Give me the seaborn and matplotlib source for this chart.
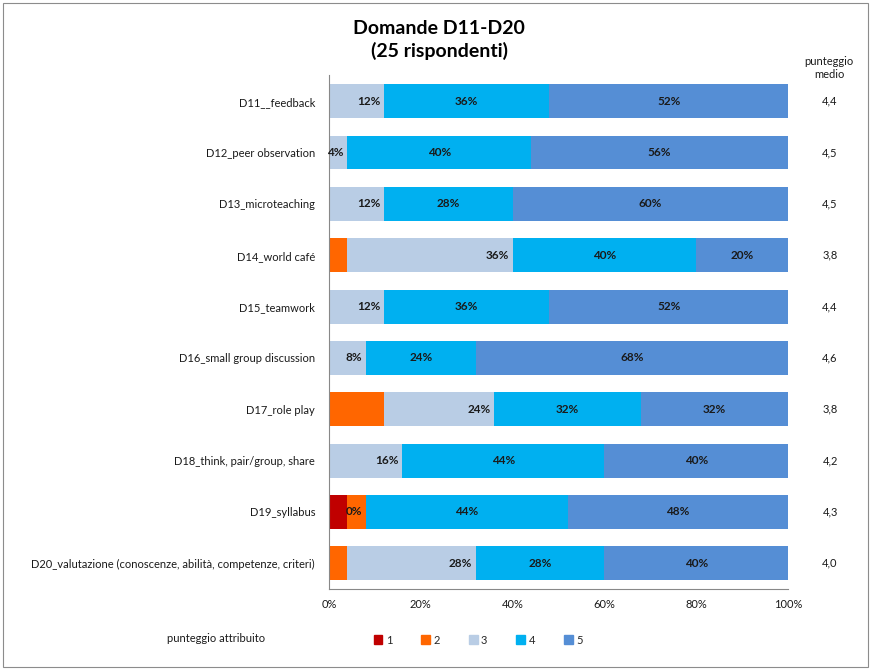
import numpy as np
import pandas as pd
import matplotlib
matplotlib.use("Agg")
import matplotlib.pyplot as plt
from matplotlib.patches import Rectangle
from matplotlib.transforms import blended_transform_factory
import seaborn as sns

categories = [
    "D11__feedback",
    "D12_peer observation",
    "D13_microteaching",
    "D14_world café",
    "D15_teamwork",
    "D16_small group discussion",
    "D17_role play",
    "D18_think, pair/group, share",
    "D19_syllabus",
    "D20_valutazione (conoscenze, abilità, competenze, criteri)",
]
score_1 = [0, 0, 0, 0, 0, 0, 0, 0, 4, 0]
score_2 = [0, 0, 0, 4, 0, 0, 12, 0, 4, 4]
score_3 = [12, 4, 12, 36, 12, 8, 24, 16, 0, 28]
score_4 = [36, 40, 28, 40, 36, 24, 32, 44, 44, 28]
score_5 = [52, 56, 60, 20, 52, 68, 32, 40, 48, 40]
mean_scores = ["4,4", "4,5", "4,5", "3,8", "4,4", "4,6", "3,8", "4,2", "4,3", "4,0"]
levels = ["1", "2", "3", "4", "5"]
colors = ["#C00000", "#FF6600", "#B9CDE5", "#00B0F0", "#558ED5"]
xticks = [0, 20, 40, 60, 80, 100]

sns.set_theme(style="white")
plt.rcParams["font.family"] = ["Lato", "DejaVu Sans"]

series = [score_1, score_2, score_3, score_4, score_5]
cum = np.cumsum(np.array(series), axis=0)

fig = plt.figure(figsize=(8.71, 6.70), dpi=100)
ax = fig.add_axes([329 / 871, 1 - 589 / 670, (788 - 329) / 871, (589 - 75.5) / 670])

# draw cumulative totals from the largest down so each level overlays the next
for k in range(4, -1, -1):
    df = pd.DataFrame({"cat": categories, "val": cum[k]})
    sns.barplot(data=df, x="val", y="cat", orient="h", color=colors[k],
                width=0.66, saturation=1, linewidth=0, ax=ax)

# mean score column: x in figure coordinates, y in data coordinates
mean_tr = blended_transform_factory(fig.transFigure, ax.transData)

# value labels
for i in range(len(categories)):
    left3 = cum[1][i]
    v3 = score_3[i]
    ax.text(left3 + v3 - 0.8, i, f"{v3}%", ha="right", va="center",
            fontsize=8.5, fontweight="bold", color="#1a1a1a")
    for k in (3, 4):
        v = series[k][i]
        start = cum[k - 1][i]
        ax.text(start + v / 2, i, f"{v}%", ha="center", va="center",
                fontsize=8.5, fontweight="bold", color="#1a1a1a")
    ax.text(830 / 871, i, mean_scores[i], transform=mean_tr, clip_on=False,
            ha="center", va="center", fontsize=8, color="#1a1a1a")

ax.set_xlim(0, 100)
ax.set_ylim(len(categories) - 0.5, -0.5)
ax.set_xticks(xticks)
ax.set_xticklabels([f"{t}%" for t in xticks], fontsize=8, color="#1a1a1a")
ax.set_yticks(range(len(categories)))
ax.set_yticklabels(categories, fontsize=8, color="#1a1a1a")
ax.tick_params(axis="y", length=0, pad=10)
ax.set_yticks(np.arange(-0.5, len(categories), 1), minor=True)
ax.tick_params(axis="y", which="minor", length=4, color="#888888", direction="out")
ax.tick_params(axis="x", length=4, color="#888888", direction="out", pad=3)
ax.set_xlabel("")
ax.set_ylabel("")
for s in ("top", "right"):
    ax.spines[s].set_visible(False)
for s in ("left", "bottom"):
    ax.spines[s].set_color("#888888")
    ax.spines[s].set_linewidth(0.8)

fig.text(439 / 871, 1 - 20 / 670, "Domande D11-D20\n(25 rispondenti)", ha="center",
         va="top", fontsize=14, fontweight="bold", linespacing=1.35, color="black")
fig.text(829 / 871, 1 - 68 / 670, "punteggio\nmedio", ha="center", va="center",
         fontsize=8, color="#1a1a1a", linespacing=1.3)
fig.text(167 / 871, 1 - 638 / 670, "punteggio attribuito", ha="left", va="center",
         fontsize=8, color="#1a1a1a")

# legend
handles = [Rectangle((0, 0), 1, 1, color=c) for c in colors]
fig.legend(handles, levels, loc="center", bbox_to_anchor=(478 / 871, 1 - 640 / 670),
           ncol=5, frameon=False, fontsize=8, handlelength=0.8, handleheight=0.8,
           handletextpad=0.3, columnspacing=2.6)

fig.patches.append(Rectangle((0.004, 0.004), 0.992, 0.992, transform=fig.transFigure,
                             fill=False, edgecolor="#8c8c8c", linewidth=0.8))

fig.savefig("out.png", dpi=100, facecolor="white")
